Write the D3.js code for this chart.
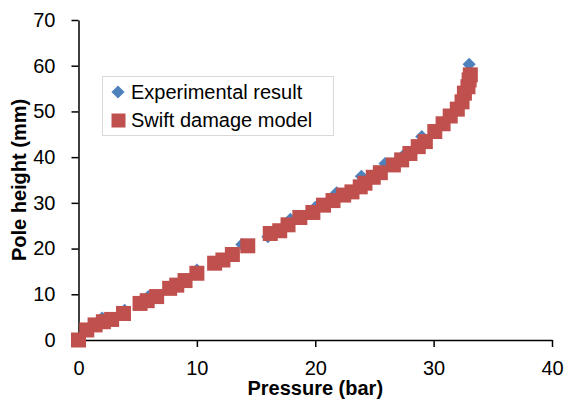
<!DOCTYPE html>
<html>
<head>
<meta charset="utf-8">
<script src="https://cdn.jsdelivr.net/npm/d3@7"></script>
<style>
  body { margin: 0; background: #fff; }
  svg { display: block; font-family: "Liberation Sans", Arial, sans-serif; }
</style>
</head>
<body>
<script>
// experimental result (diamonds)
const expPressure = [0, 2.0, 3.9, 5.9, 8.0, 10.0, 13.8, 16.0, 17.9, 20.0, 21.8, 23.9, 25.9, 27.5, 29.0, 31.0, 32.5, 33.0];
const expHeight   = [0, 4.8, 6.5, 9.5, 12.2, 15.3, 20.9, 22.6, 26.4, 29.0, 32.2, 35.8, 38.6, 40.5, 44.5, 48.0, 53.5, 60.3];

// swift damage model (squares)
const swiftPressure = [0, 0.7, 1.4, 2.1, 2.8, 3.8, 5.2, 5.8, 6.6, 7.7, 8.3, 9.0, 10.0, 11.5, 12.2, 13.0, 14.3,
    16.2, 17.0, 17.7, 18.7, 19.8, 20.7, 21.5, 22.4, 23.1, 23.8, 24.2, 24.9, 25.5, 26.6, 27.3, 28.0, 28.7, 29.3,
    30.1, 30.8, 31.4, 32.0, 32.4, 32.6, 32.9, 33.0, 33.1];
const swiftHeight = [0, 2.2, 3.3, 4.0, 4.5, 5.8, 8.0, 8.6, 9.5, 11.3, 12.0, 13.0, 14.6, 16.8, 17.5, 18.7, 20.6,
    23.3, 23.9, 25.2, 26.8, 27.9, 29.5, 30.5, 31.7, 32.4, 33.5, 34.3, 35.6, 36.6, 38.3, 39.4, 40.8, 42.3, 43.4,
    45.6, 47.3, 49.0, 50.5, 52.1, 54.0, 55.4, 56.9, 58.0];

const xTicks = [0, 10, 20, 30, 40];
const yTicks = [0, 10, 20, 30, 40, 50, 60, 70];

const seriesNames = ['Experimental result', 'Swift damage model'];
const blue = '#4F81BD', red = '#C0504D';

const W = 565, H = 403,
    mLeft = 78.5, mRight = 13, mTop = 20, mBottom = 63;

const x = d3.scaleLinear().domain([0, 40]).range([mLeft, W - mRight]);
const y = d3.scaleLinear().domain([0, 70]).range([H - mBottom, mTop]);

const svg = d3.select('body').append('svg')
    .attr('width', W)
    .attr('height', H);

const xAxis = svg.append('g')
    .attr('transform', `translate(0, ${y(0)})`)
    .call(d3.axisBottom(x).tickValues(xTicks).tickSize(7).tickSizeOuter(0).tickPadding(14));

const yAxis = svg.append('g')
    .attr('transform', `translate(${x(0)}, 0)`)
    .call(d3.axisLeft(y).tickValues(yTicks).tickSize(7).tickSizeOuter(0).tickPadding(16));

[xAxis, yAxis].forEach(g => {
    g.selectAll('path, line').attr('stroke', '#000').attr('stroke-width', 1.5);
    g.selectAll('text').attr('font-size', 20).attr('fill', '#000')
        .attr('font-family', '"Liberation Sans", Arial, sans-serif');
});

// points
const expData = expPressure.map((p, i) => [p, expHeight[i]]);
const swiftData = swiftPressure.map((p, i) => [p, swiftHeight[i]]);

svg.selectAll('.exp')
    .data(expData)
    .enter()
    .append('path')
    .attr('class', 'exp')
    .attr('d', d3.symbol(d3.symbolDiamond2, 110)())
    .attr('transform', d => `translate(${x(d[0])}, ${y(d[1])})`)
    .attr('fill', blue);

svg.selectAll('.swift')
    .data(swiftData)
    .enter()
    .append('rect')
    .attr('class', 'swift')
    .attr('x', d => x(d[0]) - 7.5)
    .attr('y', d => y(d[1]) - 7.5)
    .attr('width', 15)
    .attr('height', 15)
    .attr('fill', red);

// legend
const legend = svg.append('g');
legend.append('rect')
    .attr('x', 102.5).attr('y', 76.5)
    .attr('width', 231).attr('height', 59)
    .attr('fill', '#fff').attr('stroke', '#D9D9D9');

legend.append('path')
    .attr('d', d3.symbol(d3.symbolDiamond2, 110)())
    .attr('transform', 'translate(118, 92)')
    .attr('fill', blue);
legend.append('rect')
    .attr('x', 111.5).attr('y', 113.5)
    .attr('width', 14).attr('height', 14)
    .attr('fill', red);

legend.selectAll('text')
    .data(seriesNames)
    .enter()
    .append('text')
    .attr('x', 131)
    .attr('y', (d, i) => 99 + i * 28)
    .attr('font-size', 20)
    .text(d => d);

// axis titles
svg.append('text')
    .attr('x', (x(0) + x(40)) / 2)
    .attr('y', 395)
    .attr('text-anchor', 'middle')
    .attr('font-size', 20)
    .attr('font-weight', 'bold')
    .text('Pressure (bar)');

svg.append('text')
    .attr('transform', `translate(26, ${(y(0) + y(70)) / 2}) rotate(-90)`)
    .attr('text-anchor', 'middle')
    .attr('font-size', 20)
    .attr('font-weight', 'bold')
    .text('Pole height (mm)');
</script>
</body>
</html>
